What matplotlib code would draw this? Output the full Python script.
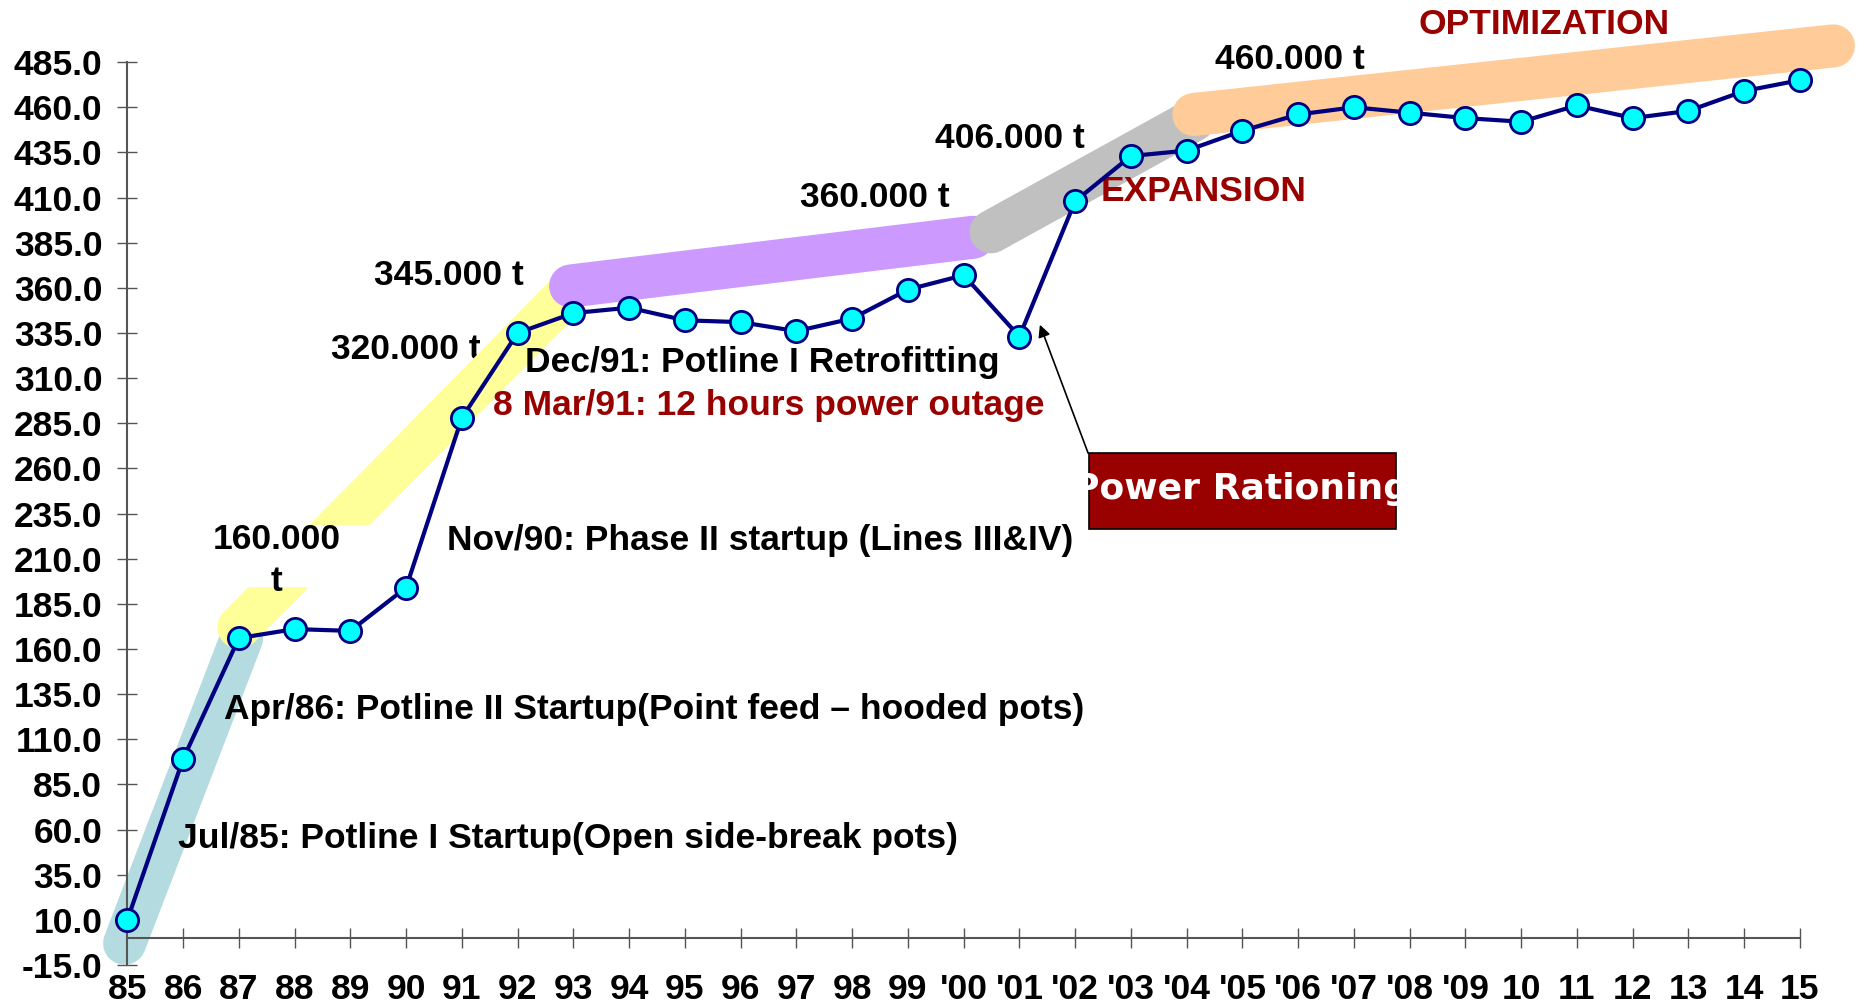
import numpy as np
import matplotlib.pyplot as plt
from matplotlib.patches import Rectangle

plt.rcParams['font.family'] = ['Liberation Sans Narrow', 'Liberation Sans', 'DejaVu Sans']
plt.rcParams['font.weight'] = 'bold'

# datos
years = ['85', '86', '87', '88', '89', '90', '91', '92', '93', '94', '95', '96', '97', '98', '99',
         "'00", "'01", "'02", "'03", "'04", "'05", "'06", "'07", "'08", "'09",
         '10', '11', '12', '13', '14', '15']
production = [10, 99, 166, 171, 170, 194, 288, 335, 346, 349, 342, 341, 336, 343, 359,
              367, 333, 408, 433, 436, 447, 456, 460, 457, 454, 452, 461, 454, 458, 469, 475]
yticks = np.arange(-15, 486, 25)

# bandas de fondo (x0, y0, x1, y1, color)
bands = [
    (-0.05, -3, 2.05, 166, '#B4DCE0'),
    (2.0, 172, 7.9, 357, '#FFFF99'),
    (7.95, 361, 15.17, 388, '#CC99FF'),
    (15.49, 391, 19.13, 453, '#C0C0C0'),
    (19.13, 456, 30.6, 494, '#FFCC99'),
]

x = np.arange(len(years))

fig = plt.figure(figsize=(18.73, 10.02), dpi=100)
ax = fig.add_axes([0.068, 0.037, 0.893, 0.901])

for x0, y0, x1, y1, c in bands:
    ax.plot([x0, x1], [y0, y1], color=c, lw=31, solid_capstyle='round', clip_on=False, zorder=2)

# caja blanca del texto 160.000 t
ax.add_patch(Rectangle((1.5, 194.3), 3.3, 34.4, facecolor='white', edgecolor='none', zorder=3))

ax.plot(x, production, color='#000080', lw=3, marker='o', markersize=16,
        markerfacecolor='#00FFFF', markeredgecolor='#000080', markeredgewidth=2,
        zorder=5, clip_on=False)

fs = 25.5
ax.text(2.68, 209, '160.000\nt', ha='center', va='center', fontsize=fs, zorder=4, linespacing=1.35)
ax.text(3.66, 325.8, '320.000 t', va='center', fontsize=fs, zorder=1)
ax.text(4.43, 366.7, '345.000 t', va='center', fontsize=fs, zorder=4)
ax.text(12.06, 410.3, '360.000 t', va='center', fontsize=fs, zorder=4)
ax.text(14.49, 442.7, '406.000 t', va='center', fontsize=fs, zorder=4)
ax.text(19.5, 486.3, '460.000 t', va='center', fontsize=fs, zorder=4)
ax.text(23.16, 506, 'OPTIMIZATION', va='center', fontsize=fs, color='#990000', zorder=4)
ax.text(17.46, 413.6, 'EXPANSION', va='center', fontsize=fs, color='#990000', zorder=4)
ax.text(7.14, 318.5, 'Dec/91: Potline I Retrofitting', va='center', fontsize=fs, zorder=4)
ax.text(6.56, 294.7, '8 Mar/91: 12 hours power outage', va='center', fontsize=fs, color='#990000', zorder=4)
ax.text(5.74, 220, 'Nov/90: Phase II startup (Lines III&IV)', va='center', fontsize=fs, zorder=4)
ax.text(1.736, 126.3, 'Apr/86: Potline II Startup(Point feed \u2013 hooded pots)', va='center', fontsize=fs, zorder=4)
ax.text(0.9, 54.9, 'Jul/85: Potline I Startup(Open side-break pots)', va='center', fontsize=fs, zorder=4)

# caja Power Rationing
box = Rectangle((17.25, 226.7), 5.51, 41.6, facecolor='#990000', edgecolor='black', lw=1.2, zorder=4)
ax.add_patch(box)
t = ax.text(19.97, 248.5, 'Power Rationing', ha='center', va='center', fontsize=26,
            color='white', family='DejaVu Sans', zorder=5)
t.set_clip_path(box)
ax.annotate('', xy=(16.35, 341), xytext=(17.25, 267),
            arrowprops=dict(arrowstyle='-|>', color='black', lw=1.2, mutation_scale=18), zorder=5)

ax.set_xlim(0, 30)
ax.set_ylim(-15, 485)
ax.set_xticks(x)
ax.set_xticklabels(years)
ax.set_yticks(yticks)
ax.set_yticklabels(['%.1f' % v for v in yticks])

ax.spines['top'].set_visible(False)
ax.spines['right'].set_visible(False)
ax.spines['bottom'].set_position(('data', 0))
for s in ['left', 'bottom']:
    ax.spines[s].set_color('#555555')
    ax.spines[s].set_linewidth(1.5)

ax.tick_params(axis='both', direction='inout', length=14, width=1, color='#555555', labelsize=25.5)
ax.tick_params(axis='x', pad=18)
ax.tick_params(axis='y', pad=11)

fig.savefig('out.png', dpi=100)
